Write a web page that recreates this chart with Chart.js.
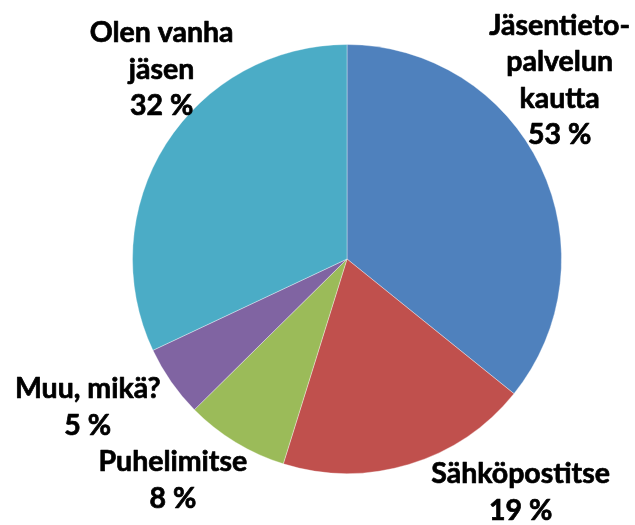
<!DOCTYPE html>
<html>
<head>
<meta charset="utf-8">
<script src="https://cdn.jsdelivr.net/npm/chart.js@4/dist/chart.umd.min.js"></script>
<style>
  html, body { margin: 0; padding: 0; background: #ffffff; }
  #c { display: block; }
</style>
</head>
<body>
<canvas id="c" width="635" height="525"></canvas>
<script>
// ---- data ----
const categories = ['Jäsentietopalvelun kautta', 'Sähköpostitse', 'Puhelimitse', 'Muu, mikä?', 'Olen vanha jäsen'];
const labelLines = [['Jäsentieto-', 'palvelun', 'kautta'], ['Sähköpostitse'], ['Puhelimitse'], ['Muu, mikä?'], ['Olen vanha', 'jäsen']];
const percentLabels = ['53 %', '19 %', '8 %', '5 %', '32 %'];
const sliceValues = [35.8, 19.0, 7.8, 5.4, 32.0];
const sliceColors = ['#4F81BD', '#C0504D', '#9BBB59', '#8064A2', '#4BACC6'];

// label placement: angle (deg, clockwise from top) and distance (in radii) of the label block centre
const labelPlacement = [
  { angle: 49.8, dist: 1.298 },
  { angle: 143.25, dist: 1.353 },
  { angle: 218.3, dist: 1.31 },
  { angle: 240.4, dist: 1.39 },
  { angle: 315.8, dist: 1.24 }
];

const FONT_SIZE = 28.5;
const LINE_PITCH = 36.5;
const FONT = 'bold ' + FONT_SIZE + 'px Lato, "Open Sans", sans-serif';

const outsideLabels = {
  id: 'outsideLabels',
  afterDraw(chart) {
    const meta = chart.getDatasetMeta(0);
    const arc0 = meta.data[0];
    const cx = arc0.x, cy = arc0.y, r = arc0.outerRadius;
    const ctx = chart.ctx;
    ctx.save();
    ctx.font = FONT;
    ctx.fillStyle = '#000000';
    ctx.strokeStyle = '#000000';
    ctx.lineWidth = 0.7;
    ctx.lineJoin = 'round';
    ctx.textAlign = 'center';
    ctx.textBaseline = 'alphabetic';
    const capH = FONT_SIZE * 0.716;
    categories.forEach((cat, i) => {
      const lines = labelLines[i].concat([percentLabels[i]]);
      const p = labelPlacement[i];
      const a = p.angle * Math.PI / 180;
      const bx = cx + Math.sin(a) * p.dist * r;
      const by = cy - Math.cos(a) * p.dist * r;
      const n = lines.length;
      lines.forEach((t, k) => {
        const mid = by + (k - (n - 1) / 2) * LINE_PITCH;
        ctx.fillText(t, bx, mid + capH / 2);
        ctx.strokeText(t, bx, mid + capH / 2);
      });
    });
    ctx.restore();
  }
};

new Chart(document.getElementById('c'), {
  type: 'pie',
  data: {
    labels: categories,
    datasets: [{
      data: sliceValues,
      backgroundColor: sliceColors,
      borderColor: 'rgba(255,255,255,0.35)',
      borderWidth: 1
    }]
  },
  options: {
    responsive: false,
    animation: false,
    layout: { padding: { left: 132, right: 73, top: 44, bottom: 51 } },
    plugins: {
      legend: { display: false },
      tooltip: { enabled: false },
      title: { display: false }
    }
  },
  plugins: [outsideLabels]
});
</script>
</body>
</html>
